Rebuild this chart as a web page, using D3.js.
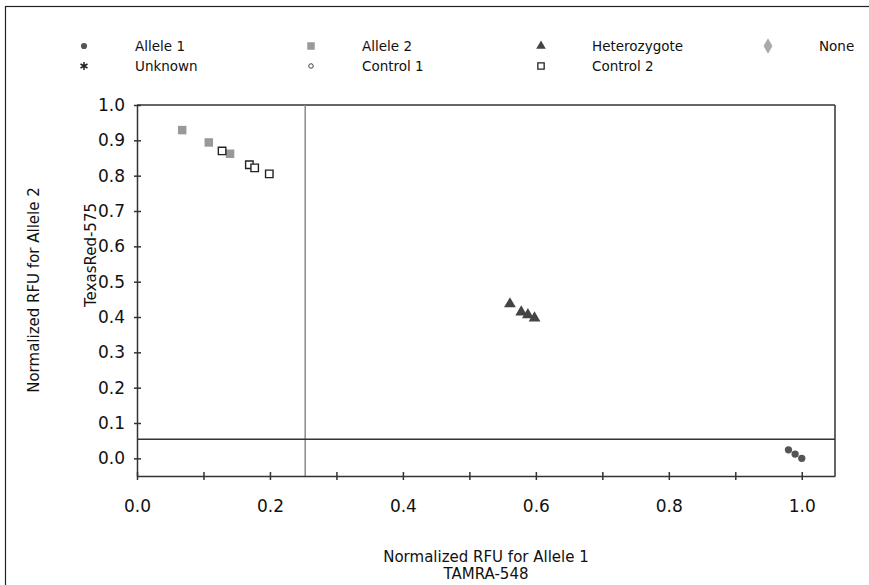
<!DOCTYPE html>
<html>
<head>
<meta charset="utf-8">
<script src="https://cdn.jsdelivr.net/npm/d3@7"></script>
<style>
  html, body { margin: 0; padding: 0; background: #fff; }
  svg { display: block; }
  text { font-family: "DejaVu Sans", sans-serif; fill: #111; }
</style>
</head>
<body>
<svg id="chart" width="869" height="585"></svg>
<script>
// ---- data ----
const allele1X = [0.980, 0.990, 1.000];
const allele1Y = [0.024, 0.012, 0.000];
const allele2X = [0.068, 0.108, 0.140];
const allele2Y = [0.929, 0.894, 0.862];
const hetX = [0.561, 0.578, 0.588, 0.598];
const hetY = [0.437, 0.414, 0.406, 0.397];
const control2X = [0.128, 0.169, 0.177, 0.199];
const control2Y = [0.870, 0.831, 0.822, 0.805];
const xThreshold = 0.253;
const yThreshold = 0.054;
const xTicks = [0, 0.1, 0.2, 0.3, 0.4, 0.5, 0.6, 0.7, 0.8, 0.9, 1.0];
const xTickLabels = ["0.0", "", "0.2", "", "0.4", "", "0.6", "", "0.8", "", "1.0"];
const yTicks = [0, 0.1, 0.2, 0.3, 0.4, 0.5, 0.6, 0.7, 0.8, 0.9, 1.0];
const yTickLabels = ["0.0", "0.1", "0.2", "0.3", "0.4", "0.5", "0.6", "0.7", "0.8", "0.9", "1.0"];
const legendLabels = ["Allele 1", "Allele 2", "Heterozygote", "None", "Unknown", "Control 1", "Control 2"];
const xTitle = ["Normalized RFU for Allele 1", "TAMRA-548"];
const yTitle = ["Normalized RFU for Allele 2", "TexasRed-575"];

// ---- layout ----
const svg = d3.select("#chart");
const L = 137, R = 835, T = 105, B = 476;
const x = d3.scaleLinear().domain([0, 1.05]).range([L, R]);
const y = d3.scaleLinear().domain([-0.05, 1.0]).range([B, T]);
const axisColor = "#333";

// outer frame
svg.append("rect").attr("x", 5.5).attr("y", 6.5).attr("width", 1000).attr("height", 1000)
  .attr("fill", "none").attr("stroke", "#222").attr("stroke-width", 1.2);

// plot frame (top & right)
svg.append("line").attr("x1", L).attr("x2", R).attr("y1", T).attr("y2", T)
  .attr("stroke", axisColor).attr("stroke-width", 1.5);
svg.append("line").attr("x1", R).attr("x2", R).attr("y1", T).attr("y2", B)
  .attr("stroke", axisColor).attr("stroke-width", 1.5);

// threshold lines
svg.append("line").attr("x1", x(xThreshold)).attr("x2", x(xThreshold)).attr("y1", T).attr("y2", B)
  .attr("stroke", "#8a8a8a").attr("stroke-width", 1.5);
svg.append("line").attr("x1", L).attr("x2", R).attr("y1", y(yThreshold)).attr("y2", y(yThreshold))
  .attr("stroke", "#333").attr("stroke-width", 1.3);

// axes
const xAxis = d3.axisBottom(x).tickValues(xTicks).tickSizeInner(4).tickSizeOuter(0)
  .tickPadding(20).tickFormat((d, i) => xTickLabels[i]);
const gx = svg.append("g").attr("transform", `translate(0,${B})`).call(xAxis);
gx.select(".domain").attr("stroke", axisColor).attr("stroke-width", 1.5);
gx.selectAll(".tick line").attr("y1", -4).attr("y2", 4).attr("stroke", axisColor).attr("stroke-width", 1.5);
gx.selectAll(".tick text").attr("font-size", 17).attr("font-family", "DejaVu Sans").attr("fill", "#222");

const yAxis = d3.axisLeft(y).tickValues(yTicks).tickSizeInner(4).tickSizeOuter(0)
  .tickPadding(8).tickFormat((d, i) => yTickLabels[i]);
const gy = svg.append("g").attr("transform", `translate(${L},0)`).call(yAxis);
gy.select(".domain").attr("stroke", axisColor).attr("stroke-width", 1.5);
gy.selectAll(".tick line").attr("x1", -3).attr("x2", 4).attr("stroke", axisColor).attr("stroke-width", 1.5);
gy.selectAll(".tick text").attr("font-size", 17).attr("font-family", "DejaVu Sans").attr("fill", "#222");

// axis titles
svg.append("text").attr("text-anchor", "middle").attr("font-size", 15)
  .attr("x", 486).attr("y", 562).text(xTitle[0]);
svg.append("text").attr("text-anchor", "middle").attr("font-size", 15)
  .attr("x", 486).attr("y", 579).text(xTitle[1]);
svg.append("text").attr("text-anchor", "middle").attr("font-size", 15)
  .attr("transform", "translate(39,290) rotate(-90)").text(yTitle[0]);
svg.append("text").attr("text-anchor", "middle").attr("font-size", 15)
  .attr("transform", "translate(96,255) rotate(-90)").text(yTitle[1]);

// symbols
const sym = {
  circle: d3.symbol().type(d3.symbolCircle).size(42),
  square: d3.symbol().type(d3.symbolSquare).size(72),
  openSquare: d3.symbol().type(d3.symbolSquare).size(56),
  triangle: d3.symbol().type(d3.symbolTriangle).size(60),
};

// data marks
const zip = (xs, ys) => xs.map((v, i) => [v, ys[i]]);
svg.append("g").selectAll("path").data(zip(allele2X, allele2Y)).join("path")
  .attr("d", sym.square).attr("transform", d => `translate(${x(d[0])},${y(d[1])})`)
  .attr("fill", "#999");
svg.append("g").selectAll("path").data(zip(control2X, control2Y)).join("path")
  .attr("d", sym.openSquare).attr("transform", d => `translate(${x(d[0])},${y(d[1])})`)
  .attr("fill", "#fff").attr("stroke", "#222").attr("stroke-width", 1.4);
svg.append("g").selectAll("path").data(zip(hetX, hetY)).join("path")
  .attr("d", sym.triangle).attr("transform", d => `translate(${x(d[0])},${y(d[1])})`)
  .attr("fill", "#444");
svg.append("g").selectAll("path").data(zip(allele1X, allele1Y)).join("path")
  .attr("d", sym.circle).attr("transform", d => `translate(${x(d[0])},${y(d[1])})`)
  .attr("fill", "#555");

// legend
const legendItems = [
  { label: legendLabels[0], col: 0, row: 0, kind: "circle" },
  { label: legendLabels[1], col: 1, row: 0, kind: "square" },
  { label: legendLabels[2], col: 2, row: 0, kind: "triangle" },
  { label: legendLabels[3], col: 3, row: 0, kind: "diamond" },
  { label: legendLabels[4], col: 0, row: 1, kind: "asterisk" },
  { label: legendLabels[5], col: 1, row: 1, kind: "openCircle" },
  { label: legendLabels[6], col: 2, row: 1, kind: "openSquare" },
];
const colMarkX = [84, 311, 541, 768];
const colTextX = [135, 362, 592, 819];
const rowY = [46, 66];
const lg = svg.append("g");
legendItems.forEach(it => {
  const mx = colMarkX[it.col], my = rowY[it.row];
  const g = lg.append("g").attr("transform", `translate(${mx},${my})`);
  if (it.kind === "circle") g.append("path").attr("d", d3.symbol().type(d3.symbolCircle).size(30)).attr("fill", "#555");
  if (it.kind === "square") g.append("path").attr("d", d3.symbol().type(d3.symbolSquare).size(56)).attr("fill", "#999");
  if (it.kind === "triangle") g.append("path").attr("d", d3.symbol().type(d3.symbolTriangle).size(40)).attr("fill", "#444");
  if (it.kind === "diamond") g.append("path").attr("d", d3.symbol().type(d3.symbolDiamond).size(70)).attr("fill", "#aaa");
  if (it.kind === "asterisk") g.append("path").attr("d", d3.symbol().type(d3.symbolAsterisk).size(45)).attr("stroke", "#222").attr("stroke-width", 1.5).attr("fill", "none");
  if (it.kind === "openCircle") g.append("path").attr("d", d3.symbol().type(d3.symbolCircle).size(16)).attr("stroke", "#444").attr("stroke-width", 1).attr("fill", "#fff");
  if (it.kind === "openSquare") g.append("path").attr("d", d3.symbol().type(d3.symbolSquare).size(40)).attr("stroke", "#222").attr("stroke-width", 1.3).attr("fill", "#fff");
  lg.append("text").attr("x", colTextX[it.col]).attr("y", my).attr("dy", "0.36em")
    .attr("font-size", 13.5).text(it.label);
});
</script>
</body>
</html>
